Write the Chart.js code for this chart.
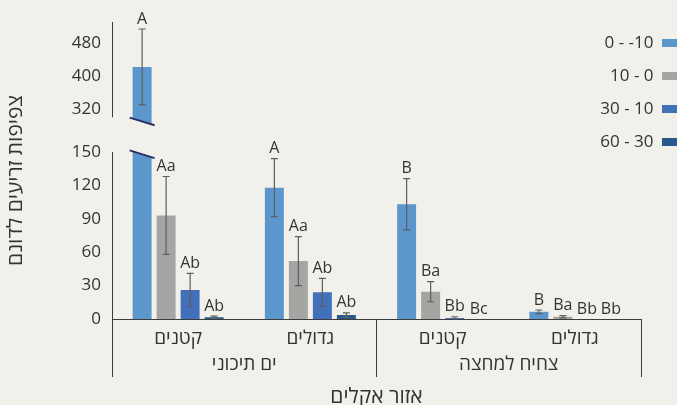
<!DOCTYPE html>
<html lang="he">
<head>
<meta charset="utf-8">
<script src="https://cdn.jsdelivr.net/npm/chart.js@4.4.1/dist/chart.umd.min.js"></script>
<style>
  html, body { margin: 0; padding: 0; background: #f2f0ea; }
  #wrap { width: 677px; height: 405px; }
</style>
</head>
<body>
<div id="wrap"><canvas id="chart" width="677" height="405"></canvas></div>
<script>
// Seedling density per dunam by climate zone, plant size and soil depth.
const sizeLabels   = ['קטנים', 'גדולים', 'קטנים', 'גדולים'];
const regionLabels = ['ים תיכוני', 'צחיח למחצה'];
const depthLabels  = ['0 - -10', '10 - 0', '30 - 10', '60 - 30'];

// mean density per group (same order as sizeLabels)
const depthA = [422, 118, 103, 6.5];   // 0 - -10
const depthB = [93, 52, 24.5, 2];      // 10 - 0
const depthC = [26, 24, 1, 0];         // 30 - 10
const depthD = [1.5, 3.5, 0, 0];       // 60 - 30

// standard error
const depthAErr = [92, 26, 23, 1.6];
const depthBErr = [35, 22, 9, 1];
const depthCErr = [15, 12.5, 1, 0];
const depthDErr = [1, 2, 0, 0];

// significance letters
const depthALetters = ['A', 'A', 'B', 'B'];
const depthBLetters = ['Aa', 'Aa', 'Ba', 'Ba'];
const depthCLetters = ['Ab', 'Ab', 'Bb', 'Bb'];
const depthDLetters = ['Ab', 'Ab', 'Bc', 'Bb'];

// axis ticks of the two panels
const lowTicks = [0, 30, 60, 90, 120, 150];
const topTicks = [320, 400, 480];

const valueSeries  = [depthA, depthB, depthC, depthD];
const errorSeries  = [depthAErr, depthBErr, depthCErr, depthDErr];
const letterSeries = [depthALetters, depthBLetters, depthCLetters, depthDLetters];
const colors = ['#5b97cc', '#a5a5a3', '#4270bb', '#27598c'];

const FONT = "'Open Sans', 'Liberation Sans', sans-serif";
const TEXT = '#333333';
const AXIS = '#3c3c3c';
const LOW_MIN = 0, LOW_MAX = 150;      // lower panel range
const TOP_MIN = 216, TOP_MAX = 531;    // upper panel range
const TOP_AXIS_END = 300;              // upper axis line stops here
const TOP_CUT = 290;                   // where the tall bar is cut in the upper panel
const LOW_CUT = 148;                   // where it is cut in the lower panel
const SLOPE = 0.31;
const Y_WIDTH = 80;

Chart.defaults.font.family = FONT;
Chart.defaults.color = TEXT;

const barShape = { categoryPercentage: 0.726, barPercentage: 0.79, borderWidth: 0 };

const datasets = valueSeries.map((vals, i) => Object.assign({
  label: depthLabels[i],
  data: vals,
  backgroundColor: colors[i],
  xAxisID: 'x',
  yAxisID: 'y',
  stack: 's' + i
}, barShape));

// the part of the tallest bars that rises above the lower panel
datasets.push(Object.assign({
  label: depthLabels[0],
  data: depthA.map(v => (v > LOW_MAX ? v : null)),
  backgroundColor: colors[0],
  xAxisID: 'x',
  yAxisID: 'yTop',
  stack: 's0'
}, barShape));

function brokenBars(chart) {
  const out = [];
  for (let i = 0; i < valueSeries.length; i++) {
    const meta = chart.getDatasetMeta(i);
    valueSeries[i].forEach((v, j) => {
      if (v > LOW_MAX) {
        const el = meta.data[j];
        const half = el.width / 2 + 3;
        out.push({ cx: el.x, x0: el.x - half, x1: el.x + half });
      }
    });
  }
  return out;
}

function cutY(scale, value, b, x) {
  return scale.getPixelForValue(value) + SLOPE * (x - b.cx);
}

const brokenAxis = {
  id: 'brokenAxis',
  beforeDatasetDraw(chart, args) {
    const ds = chart.data.datasets[args.index];
    const ctx = chart.ctx;
    const a = chart.chartArea;
    const low = chart.scales.y;
    const top = chart.scales.yTop;
    const broken = brokenBars(chart);
    ctx.save();
    ctx.beginPath();
    if (ds.yAxisID === 'yTop') {
      const floor = top.bottom;
      ctx.moveTo(a.left, 0);
      ctx.lineTo(a.right, 0);
      ctx.lineTo(a.right, floor);
      broken.slice().reverse().forEach(b => {
        ctx.lineTo(b.x1, floor);
        ctx.lineTo(b.x1, cutY(top, TOP_CUT, b, b.x1));
        ctx.lineTo(b.x0, cutY(top, TOP_CUT, b, b.x0));
        ctx.lineTo(b.x0, floor);
      });
      ctx.lineTo(a.left, floor);
    } else {
      const ceil = low.top - 2;
      ctx.moveTo(a.left, low.bottom + 1);
      ctx.lineTo(a.left, ceil);
      broken.forEach(b => {
        ctx.lineTo(b.x0, ceil);
        ctx.lineTo(b.x0, cutY(low, LOW_CUT, b, b.x0));
        ctx.lineTo(b.x1, cutY(low, LOW_CUT, b, b.x1));
        ctx.lineTo(b.x1, ceil);
      });
      ctx.lineTo(a.right, ceil);
      ctx.lineTo(a.right, low.bottom + 1);
    }
    ctx.closePath();
    ctx.clip();
  },
  afterDatasetDraw(chart) {
    chart.ctx.restore();
  },
  afterDatasetsDraw(chart) {
    const ctx = chart.ctx;
    const a = chart.chartArea;
    const low = chart.scales.y;
    const top = chart.scales.yTop;

    // upper axis line
    ctx.save();
    ctx.strokeStyle = AXIS;
    ctx.lineWidth = 1;
    ctx.beginPath();
    const ax = Math.round(a.left) + 0.5;
    ctx.moveTo(ax, top.getPixelForValue(TOP_MAX));
    ctx.lineTo(ax, top.getPixelForValue(TOP_AXIS_END));
    ctx.stroke();

    // break marks on the cut bars
    ctx.strokeStyle = '#2a2f63';
    ctx.lineWidth = 2;
    brokenBars(chart).forEach(b => {
      ctx.beginPath();
      ctx.moveTo(b.x0, cutY(top, TOP_CUT, b, b.x0));
      ctx.lineTo(b.x1, cutY(top, TOP_CUT, b, b.x1));
      ctx.moveTo(b.x0, cutY(low, LOW_CUT, b, b.x0));
      ctx.lineTo(b.x1, cutY(low, LOW_CUT, b, b.x1));
      ctx.stroke();
    });

    // error bars and letters
    ctx.font = '16px ' + FONT;
    ctx.textAlign = 'center';
    ctx.textBaseline = 'middle';
    for (let i = 0; i < valueSeries.length; i++) {
      const meta = chart.getDatasetMeta(i);
      valueSeries[i].forEach((v, j) => {
        const e = errorSeries[i][j];
        const scale = v > LOW_MAX ? top : low;
        const x = meta.data[j].x;
        const yHi = scale.getPixelForValue(v + e);
        if (e > 0) {
          const yLo = scale.getPixelForValue(Math.max(v - e, scale.min));
          ctx.strokeStyle = '#5e5e5e';
          ctx.lineWidth = 1.2;
          ctx.beginPath();
          ctx.moveTo(x, yHi); ctx.lineTo(x, yLo);
          ctx.moveTo(x - 3.5, yHi); ctx.lineTo(x + 3.5, yHi);
          ctx.moveTo(x - 3.5, yLo); ctx.lineTo(x + 3.5, yLo);
          ctx.stroke();
        }
        ctx.fillStyle = TEXT;
        ctx.fillText(letterSeries[i][j], x, yHi - 10);
      });
    }
    ctx.restore();
  }
};

// legend sits at the right edge, its text reaching over the plot;
// the y title is centred a little lower than the plot middle
const placement = {
  id: 'placement',
  afterLayout(chart) {
    const lg = chart.legend;
    if (lg) {
      const pad = lg.options.labels.padding;
      lg.right = chart.width + pad;
      lg.left = 560;
      lg.width = lg.right - lg.left;
      const h = lg.bottom - lg.top;
      lg.top = 18.5;
      lg.bottom = lg.top + h;
    }
    const t = chart.titleBlock;
    if (t) { t.top += 10; t.bottom += 10; }
  }
};

new Chart(document.getElementById('chart'), {
  type: 'bar',
  data: { labels: sizeLabels, datasets },
  plugins: [brokenAxis, placement],
  options: {
    responsive: false,
    devicePixelRatio: 1,
    animation: false,
    layout: { padding: { top: 22, left: 0, right: 0, bottom: 0 } },
    plugins: {
      tooltip: { enabled: false },
      title: {
        display: true,
        position: 'left',
        fullSize: false,
        text: 'צפיפות זריעים לדונם',
        color: TEXT,
        font: { size: 21, weight: 'normal', family: FONT },
        padding: { top: 3, bottom: 3.8 }
      },
      legend: {
        position: 'right',
        align: 'start',
        maxWidth: 36,
        rtl: true,
        textDirection: 'ltr',
        labels: {
          boxWidth: 15,
          boxHeight: 8,
          padding: 16,
          color: TEXT,
          font: { size: 17, family: FONT },
          filter: item => item.datasetIndex < valueSeries.length
        }
      }
    },
    scales: {
      x: {
        type: 'category',
        position: 'bottom',
        offset: true,
        grid: {
          offset: true,
          drawOnChartArea: false,
          drawTicks: true,
          tickLength: 58,
          lineWidth: 1,
          color: c => (c.index === 1 || c.index === 3 ? 'rgba(0,0,0,0)' : AXIS)
        },
        border: { display: true, color: AXIS, width: 1 },
        ticks: { padding: -49.4, color: TEXT, font: { size: 19 }, maxRotation: 0 },
        afterFit: s => { s.height = 30; }
      },
      x2: {
        type: 'category',
        labels: regionLabels,
        position: 'bottom',
        offset: true,
        grid: { display: false, drawTicks: false },
        border: { display: false },
        ticks: { padding: 4.6, color: TEXT, font: { size: 19 }, maxRotation: 0 },
        title: {
          display: true,
          text: 'אזור אקלים',
          color: TEXT,
          font: { size: 21 },
          padding: { top: 0, bottom: -4.6 }
        },
        afterFit: s => { s.height = 56; }
      },
      yTop: {
        type: 'linear',
        position: 'left',
        stack: 'panels',
        stackWeight: 130,
        weight: 1,
        stacked: false,
        min: TOP_MIN,
        max: TOP_MAX,
        grid: { display: false, drawTicks: false },
        border: { display: false },
        ticks: { padding: 11, autoSkip: false, color: TEXT, font: { size: 17 } },
        afterBuildTicks: s => { s.ticks = topTicks.map(v => ({ value: v })); },
        afterFit: s => { s.width = Y_WIDTH; }
      },
      y: {
        type: 'linear',
        position: 'left',
        stack: 'panels',
        stackWeight: 167,
        weight: 0,
        stacked: false,
        min: LOW_MIN,
        max: LOW_MAX,
        grid: { display: false, drawTicks: false },
        border: { display: true, color: AXIS, width: 1 },
        ticks: { padding: 11, autoSkip: false, color: TEXT, font: { size: 17 } },
        afterBuildTicks: s => { s.ticks = lowTicks.map(v => ({ value: v })); },
        afterFit: s => { s.width = Y_WIDTH; }
      }
    }
  }
});
</script>
</body>
</html>
